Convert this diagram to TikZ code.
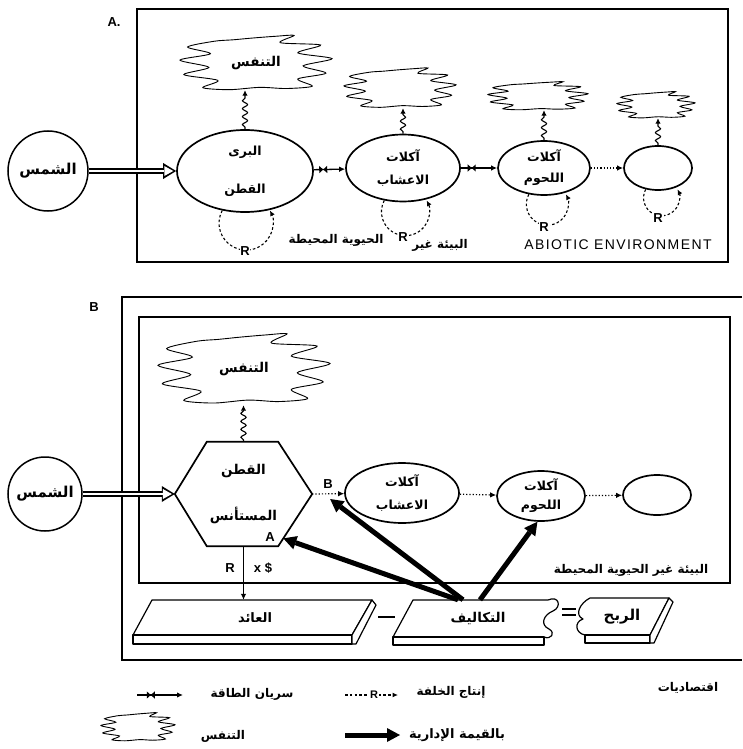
\documentclass[tikz,border=0pt]{standalone}
\usepackage{fontspec}
\setmainfont{Liberation Sans}
\newfontfamily\arabicfont[Script=Arabic]{DejaVu Sans}
\newfontfamily\spacedfont[LetterSpace=10]{Liberation Sans}
\TeXXeTstate=1
\usetikzlibrary{arrows.meta,decorations.pathmorphing,decorations.markings,calc,shapes.geometric}

\newcommand{\artext}[1]{\beginR #1\endR}

% wavy outline of a respiration cloud: centre x, centre y, half width, half height (pt)
\newcommand{\cloudshape}[4]{%
  \begin{scope}[shift={(#1,#2)}, x=#3pt, y=#4pt]
    \draw[cloudline] plot[smooth cycle, tension=0.5] coordinates {
      (-0.55,0.75) (-0.30,0.80) (-0.05,0.86) (0.25,0.92)
      (0.50,0.95) (0.32,0.70) (0.85,0.62) (0.55,0.35) (1.00,0.15) (0.62,-0.10)
      (0.92,-0.35) (0.55,-0.55) (0.74,-0.80)
      (0.40,-0.88) (0.05,-0.84) (-0.35,-0.92)
      (-0.70,-0.85) (-0.50,-0.60) (-0.95,-0.40) (-0.62,-0.15) (-1.00,0.10)
      (-0.60,0.32) (-0.90,0.55)};
  \end{scope}}

\begin{document}
\begin{tikzpicture}[x=1pt, y=1pt,
  frame/.style={line width=1.8pt},
  arabic/.style={font=\arabicfont\bfseries\fontsize{12}{14}\selectfont, inner sep=1pt},
  sun/.style={circle, draw, line width=1.5pt, inner sep=0pt, font=\arabicfont\bfseries\fontsize{15}{17}\selectfont},
  organism/.style={ellipse, draw, line width=1.7pt, inner sep=-8pt, align=center, font=\arabicfont\bfseries\fontsize{12.5}{14}\selectfont},
  hexbody/.style={rectangle, inner sep=0pt, align=center, font=\arabicfont\bfseries\fontsize{13.5}{15}\selectfont},
  cloudtext/.style={ellipse, inner sep=0pt, font=\arabicfont\bfseries\fontsize{13.5}{15}\selectfont},
  cloudline/.style={line width=0.9pt},
  tag/.style={font=\bfseries\fontsize{13}{15}\selectfont, inner sep=1pt},
  energy/.style={line width=1.3pt, -{Latex[length=6pt,width=5.5pt]},
     postaction={decorate},
     decoration={markings, mark=at position 0.3 with {\fill[arrows=-] (-4pt,3.6pt) -- (4pt,-3.6pt) -- (4pt,3.6pt) -- (-4pt,-3.6pt) -- cycle;}}},
  food/.style={dotted, line width=1.2pt, -{Latex[length=6pt,width=5.5pt]}},
  rloop/.style={dash pattern=on 2.6pt off 2.2pt, line width=1.1pt, -{Latex[length=5.5pt,width=5pt]}},
  rlabel/.style={fill=white, inner sep=0.8pt, font=\bfseries\fontsize{13}{14}\selectfont},
  resp/.style={line width=1.1pt, decorate, decoration={snake, amplitude=2.6pt, segment length=8pt, pre length=2pt, post length=5pt}, -{Latex[length=5.5pt,width=5.5pt]}},
  hollowout/.style={line width=5.8pt, -{Triangle[length=13pt,width=16pt,line width=0pt]}},
  hollowin/.style={line width=2.6pt, white, shorten >=2.9pt, -{Triangle[length=9pt,width=10pt,line width=0pt]}},
  mgmt/.style={line width=5pt, -{Triangle[length=13pt,width=14pt,line width=0pt]}},
  slab/.style={draw, line width=1.2pt, fill=white, line join=round},
]
\useasboundingbox (0,0) rectangle (742,-749);

% ---------------- panel A: natural system ----------------
\node[tag] (labA) at (114,-22) {A.};
\draw[frame] (137,-9) rectangle (728,-262);

\cloudshape{256}{-63}{76}{29}
\cloudshape{400}{-88}{56}{21}
\cloudshape{538}{-96}{50}{15}
\cloudshape{656}{-105}{39}{14}
\node[cloudtext, minimum width=140pt, minimum height=54pt] (cA1) at (256,-63) {\artext{التنفس}};
\node[cloudtext, minimum width=100pt, minimum height=40pt] (cA2) at (400,-88) {};
\node[cloudtext, minimum width=90pt, minimum height=28pt] (cA3) at (538,-96) {};
\node[cloudtext, minimum width=70pt, minimum height=26pt] (cA4) at (656,-105) {};

\node[sun, minimum size=80pt] (sunA) at (48,-171) {\artext{الشمس}};
\node[organism, minimum width=136pt, minimum height=82pt] (e1) at (245,-171) {\artext{البرى}\\[24pt]\artext{القطن}};
\node[organism, minimum width=114pt, minimum height=67pt] (e2) at (403,-168) {\artext{آكلات}\\[9pt]\artext{الاعشاب}};
\node[organism, minimum width=92pt, minimum height=54pt] (e3) at (544,-168) {\artext{آكلات}\\[7pt]\artext{اللحوم}};
\node[organism, minimum width=68pt, minimum height=44pt] (e4) at (658,-168) {};

\draw[hollowout] (sunA) -- (e1);
\draw[hollowin] (sunA) -- (e1);
\draw[energy] (e1) -- (e2);
\draw[energy] (e2) -- (e3);
\draw[food] (e3) -- (e4);

\draw[resp] (e1.north) -- (e1.north |- cA1.south);
\draw[resp] (e2.north) -- (e2.north |- cA2.south);
\draw[resp] (e3.north) -- (e3.north |- cA3.south);
\draw[resp] (e4.north) -- (e4.north |- cA4.south);

% recycling loops below each population
\draw[rloop] (e1.240) arc[start angle=152, end angle=388, radius=27];
\draw[rloop] (e2.240) arc[start angle=152, end angle=388, radius=24];
\draw[rloop] (e3.240) arc[start angle=152, end angle=388, radius=21];
\draw[rloop] (e4.240) arc[start angle=152, end angle=388, radius=18];
\node[rlabel] (rA1) at ($(e1.south)+(0,-38)$) {R};
\node[rlabel] (rA2) at ($(e2.south)+(0,-35)$) {R};
\node[rlabel] (rA3) at ($(e3.south)+(0,-31)$) {R};
\node[rlabel] (rA4) at ($(e4.south)+(0,-27)$) {R};

\node[arabic] (abA1) at (336,-240) {\artext{الحيوية المحيطة}};
\node[arabic] (abA2) at (440,-245) {\artext{البيئة غير}};
\node[font=\spacedfont\fontsize{14}{15}\selectfont] (abA3) at (618,-245) {ABIOTIC ENVIRONMENT};

% ---------------- panel B: managed system ----------------
\node[tag] (labB) at (94,-307) {B};
\draw[frame] (742,-297) -- (122,-297) -- (122,-660) -- (742,-660);
\draw[frame] (139,-317) rectangle (730,-583);

\cloudshape{244}{-369}{86}{37}
\node[cloudtext, minimum width=160pt, minimum height=72pt] (cB) at (244,-369) {\artext{التنفس}};

\node[sun, minimum size=74pt] (sunB) at (45,-494) {\artext{الشمس}};
\node[hexbody, minimum width=137pt, minimum height=104pt] (hex) at (243.5,-494) {\artext{القطن}\\[28pt]\artext{المستأنس}};
\node[organism, minimum width=114pt, minimum height=60pt] (eB2) at (402,-493) {\artext{آكلات}\\[9pt]\artext{الاعشاب}};
\node[organism, minimum width=88pt, minimum height=50pt] (eB3) at (541,-496) {\artext{آكلات}\\[5pt]\artext{اللحوم}};
\node[organism, minimum width=68pt, minimum height=40pt] (eB4) at (657,-495) {};

% hexagonal outline of the managed producer
\coordinate (hexNW) at ($(hex.north west)+(32,0)$);
\coordinate (hexNE) at ($(hex.north east)+(-34,0)$);
\coordinate (hexSE) at ($(hex.south east)+(-34,0)$);
\coordinate (hexSW) at ($(hex.south west)+(32,0)$);
\draw[line width=1.7pt, line join=miter] (hex.west) -- (hexNW) -- (hexNE) -- (hex.east) -- (hexSE) -- (hexSW) -- cycle;

\draw[hollowout] (sunB) -- (hex.west);
\draw[hollowin] (sunB) -- (hex.west);
\draw[food] (hex.east) -- (eB2);
\draw[food] (eB2) -- (eB3);
\draw[food] (eB3) -- (eB4);
\draw[resp] (hex.north) -- (hex.north |- cB.south);

\node[tag] (tagB) at (328,-484) {B};
\node[tag] (tagA) at (270,-537) {A};
\node[arabic] (abB) at (631,-570) {\artext{البيئة غير الحيوية المحيطة}};

% economic slabs
\draw[slab] (152,-600) -- (372,-600) -- (352,-635) -- (133,-635) -- cycle;
\draw[slab] (133,-635) -- (352,-635) -- (352,-644) -- (133,-644) -- cycle;
\draw[slab] (352,-635) -- (372,-600) -- (376,-605) -- (356,-644) -- (352,-644) -- cycle;

\draw[slab] (413,-600) -- (548,-600) .. controls (559,-595) and (562,-607) .. (553,-611)
   .. controls (543,-615) and (540,-625) .. (549,-629) .. controls (556,-633) and (551,-640) .. (544,-637)
   -- (393,-637) -- cycle;
\draw[slab] (393,-637) -- (544,-637) -- (544,-645) -- (393,-645) -- cycle;

\draw[slab] (590,-598) -- (669,-598) -- (650,-635) -- (585,-635)
   .. controls (575,-633) and (574,-622) .. (583,-619) .. controls (574,-615) and (580,-603) .. (590,-598) -- cycle;
\draw[slab] (585,-635) -- (650,-635) -- (650,-643) -- (585,-643) -- cycle;
\draw[slab] (650,-635) -- (669,-598) -- (673,-602) -- (654,-643) -- (650,-643) -- cycle;

\node[arabic, font=\arabicfont\bfseries\fontsize{13}{15}\selectfont, minimum height=36pt, minimum width=180pt] (slabR) at (255,-618) {\artext{العائد}};
\node[arabic, font=\arabicfont\bfseries\fontsize{13.5}{15}\selectfont, minimum height=37pt, minimum width=120pt] (slabC) at (478,-618.5) {\artext{التكاليف}};
\node[arabic, font=\arabicfont\bfseries\fontsize{15}{17}\selectfont, minimum height=37pt, minimum width=60pt] (slabP) at (622,-616.5) {\artext{الربح}};

\draw[line width=2pt] (378,-617) -- (395,-617);
\draw[line width=1.6pt] (562,-609) -- (576,-609);
\draw[line width=1.6pt] (562,-615) -- (576,-615);

\draw[line width=1pt, -{Latex[length=6pt,width=5.5pt]}] (hex.south) -- (hex.south |- slabR.north);
\node[tag] (tagR) at (230,-568) {R};
\node[tag] (tagX) at (263,-568) {x \$};

% management inputs
\draw[mgmt] ([xshift=-20pt]slabC.north) -- ($(hex.east)!0.85!(hexSE)$);
\draw[mgmt] ([xshift=-15pt]slabC.north) -- ($(eB2.west)+(-14,-6)$);
\draw[mgmt] ([xshift=2pt]slabC.north) -- (eB3.262);

% ---------------- legend ----------------
\node[arabic] (lgTitle) at (688,-688) {\artext{اقتصاديات}};
\coordinate (lgE1) at (137,-695);
\coordinate (lgE2) at (183,-695);
\draw[energy] (lgE1) -- (lgE2);
\node[arabic] (lgEtext) at (252,-694) {\artext{سريان الطاقة}};
\coordinate (lgR1) at (345,-695);
\coordinate (lgR2) at (398,-695);
\draw[rloop] (lgR1) -- node[rlabel, pos=0.55, font=\bfseries\fontsize{11}{12}\selectfont] {R} (lgR2);
\node[arabic] (lgRtext) at (451,-692) {\artext{إنتاج الخلفة}};
\cloudshape{138}{-727}{37}{15}
\node[arabic] (lgCtext) at (223,-736) {\artext{التنفس}};
\coordinate (lgM1) at (345,-735);
\coordinate (lgM2) at (400,-735);
\draw[mgmt] (lgM1) -- (lgM2);
\node[arabic, font=\arabicfont\bfseries\fontsize{13}{15}\selectfont] (lgMtext) at (457,-735) {\artext{بالقيمة الإدارية}};
\end{tikzpicture}
\end{document}
